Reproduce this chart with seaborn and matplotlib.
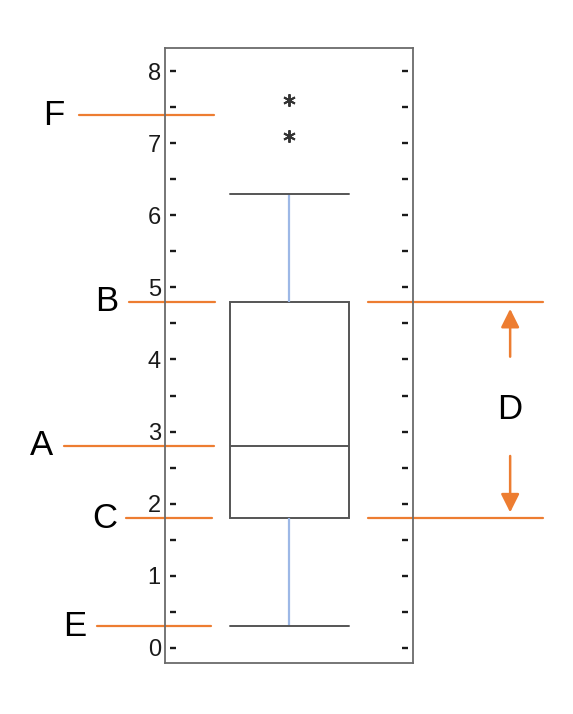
import numpy as np
import seaborn as sns
import matplotlib.pyplot as plt

# sample whose quartiles / whiskers match the picture
values = [0.3, 0.9, 1.4, 1.8, 2.1, 2.5, 2.8, 3.4, 4.1, 4.8, 6.3, 7.1, 7.6]
major_ticks = [0, 1, 2, 3, 4, 5, 6, 7, 8]
major_labels = ["0", "1", "2", "3", "4", "5", "6", "7", "8"]
minor_ticks = [0, 0.5, 1, 1.5, 2, 2.5, 3, 3.5, 4, 4.5, 5, 5.5, 6, 6.5, 7, 7.5, 8]

orange = "#ed7d31"
sns.set_style("white")
plt.rcParams["font.family"] = ["Liberation Sans", "DejaVu Sans"]

fig = plt.figure(figsize=(5.73, 7.14), dpi=100)
ax = fig.add_axes([0.288, 0.0714, 0.433, 0.8614])

sns.boxplot(
    y=values, ax=ax, width=0.48, whis=0.75,
    color="white", linecolor="#555555", linewidth=1.4,
    whiskerprops=dict(color="#9db8e6", linewidth=1.6),
    flierprops=dict(marker=(6, 2, 0), markersize=9, markeredgecolor="#333333",
                    markerfacecolor="#333333", markeredgewidth=1.4),
    capwidths=0.48,
)
ax.set_xlim(-0.5, 0.5)
ax.set_ylim(-0.21, 8.32)
ax.set_xticks([])
ax.set_yticks(major_ticks)
ax.set_yticklabels(major_labels)
ax.set_ylabel("")
ax.tick_params(axis="y", length=0, pad=3, labelsize=17, labelcolor="#1a1a1a")
for s in ax.spines.values():
    s.set_visible(True)
    s.set_color("#6b6b6b")
    s.set_linewidth(1.3)

tr = ax.get_yaxis_transform()
# little dashes standing off both spines
for xpos in [0.032, 0.968]:
    ax.plot([xpos] * len(minor_ticks), minor_ticks, transform=tr, ls="none",
            marker="_", ms=5, mew=1.7, color="#1a1a1a", clip_on=False)

q1, med, q3 = np.percentile(values, [25, 50, 75])
iqr = q3 - q1
inside = [v for v in values if q1 - 0.75 * iqr <= v <= q3 + 0.75 * iqr]
outliers = [v for v in values if v not in inside]
lo, hi = min(inside), max(inside)

# label, y, line start, line end, letter x (axes fraction)
marks = [
    ("F", np.mean(outliers) + 0.04, -0.347, 0.198, -0.448),
    ("B", q3, -0.145, 0.202, -0.234),
    ("A", med, -0.407, 0.198, -0.496),
    ("C", q1, -0.157, 0.19, -0.242),
    ("E", lo, -0.274, 0.185, -0.363),
]
for lab, yv, x0, x1, xt in marks:
    ax.plot([x0, x1], [yv, yv], transform=tr, color=orange, lw=1.6, clip_on=False)
    ax.text(xt, yv, lab, transform=tr, ha="center", va="center", fontsize=25,
            color="black")

for yv in [q3, q1]:
    ax.plot([0.8185, 1.524], [yv, yv], transform=tr, color=orange, lw=1.6, clip_on=False)

arrow = dict(arrowstyle="-|>", mutation_scale=28, lw=1.8, color=orange)
ax.annotate("", xy=(1.391, q3 - 0.06), xytext=(1.391, q3 - 0.8),
            xycoords=tr, textcoords=tr, arrowprops=arrow, annotation_clip=False)
ax.annotate("", xy=(1.391, q1 + 0.04), xytext=(1.391, q1 + 0.9),
            xycoords=tr, textcoords=tr, arrowprops=arrow, annotation_clip=False)
ax.text(1.391, (q1 + q3) / 2, "D", transform=tr, ha="center", va="center",
        fontsize=25, color="black")

fig.savefig("out.png", dpi=100)
